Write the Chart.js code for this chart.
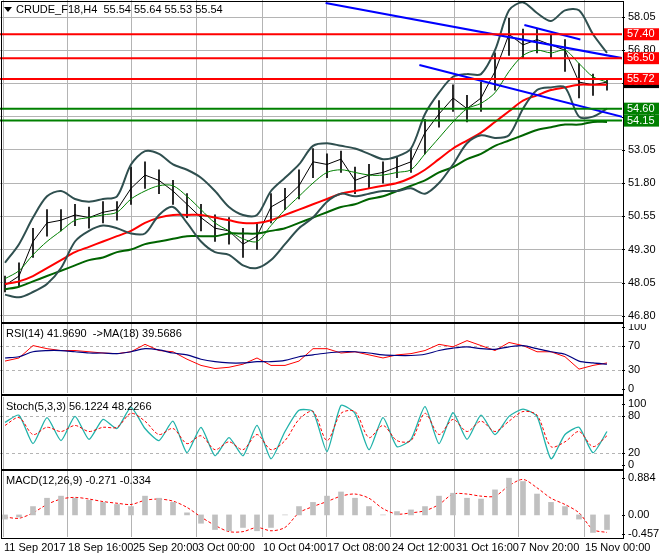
<!DOCTYPE html><html><head><meta charset="utf-8">
<script src="https://cdn.jsdelivr.net/npm/chart.js@4"></script>
<style>body{margin:0;background:#fff;width:660px;height:560px;position:relative;overflow:hidden;font-family:"Liberation Sans",sans-serif}
canvas{position:absolute;left:0}
.xl{position:absolute;top:541px;font:11px "Liberation Sans";color:#000;white-space:nowrap}
.frame{position:absolute;border:1px solid #000;left:1px;width:621px}
</style></head><body>
<canvas id="c1" width="660" height="322" style="top:0"></canvas>
<canvas id="c2" width="660" height="69" style="top:324px"></canvas>
<canvas id="c3" width="660" height="72" style="top:397px"></canvas>
<canvas id="c4" width="660" height="66" style="top:471px"></canvas>
<div class="frame" style="top:1px;height:320px"></div>
<div class="frame" style="top:323px;height:70px"></div>
<div class="frame" style="top:395px;height:73px"></div>
<div class="frame" style="top:470px;height:67px"></div>
<script>
const closes=[47.95,48.3,49.6,50.3,50.4,50.6,50.5,50.7,50.8,51.6,52.1,51.9,51.5,51.0,50.5,50.1,50.0,49.5,49.8,50.9,51.2,51.7,52.6,52.5,52.7,51.9,52.1,52.2,52.4,52.6,53.7,54.4,55.0,54.6,55.0,56.0,57.4,57.0,57.2,57.0,56.8,55.6,55.5,55.6];
const highs=[48.3,48.8,50.1,50.8,50.8,51.0,50.9,51.1,51.1,52.4,52.6,52.3,51.9,51.4,51.0,50.6,50.5,50.1,50.3,51.4,51.6,52.3,53.1,52.9,53.0,52.4,52.5,52.6,52.8,53.1,54.2,54.9,55.5,55.1,55.6,56.7,58.0,57.6,57.6,57.4,57.2,56.3,55.9,55.7];
const lows=[47.7,47.9,49.0,49.8,50.0,50.2,50.1,50.3,50.4,51.0,51.6,51.4,51.0,50.5,50.0,49.6,49.5,49.0,49.3,50.3,50.8,51.2,52.0,52.0,52.2,51.4,51.6,51.8,52.0,52.2,52.9,53.9,54.5,54.1,54.5,55.3,56.6,56.5,56.7,56.5,56.0,55.0,55.1,55.3];
const bbUpper=[48.8,49.5,50.5,51.3,51.5,51.2,51.1,51.2,51.3,52.5,53.0,52.9,52.5,52.3,52.0,51.5,50.9,50.6,50.6,51.5,52.0,52.5,53.2,53.3,53.2,53.1,52.9,52.7,52.8,53.1,54.4,55.2,55.8,55.9,55.9,56.8,58.3,58.6,58.2,57.9,58.3,58.3,57.4,56.7];
const bbLower=[47.6,47.5,47.7,48.0,48.6,49.6,50.0,50.2,50.1,49.9,49.9,50.6,50.9,50.3,49.6,49.2,49.1,48.7,48.6,48.9,49.5,50.1,50.5,51.1,51.4,51.3,51.4,51.5,51.5,51.6,51.4,51.8,52.5,53.3,53.6,53.5,53.6,54.6,55.3,55.4,55.4,54.3,54.3,54.6];
const bbMid=[48.2,48.5,49.1,49.6,50.0,50.4,50.5,50.6,50.7,51.2,51.5,51.7,51.7,51.3,50.8,50.3,50.0,49.7,49.6,50.2,50.8,51.3,51.8,52.2,52.3,52.2,52.1,52.1,52.2,52.3,52.9,53.5,54.1,54.6,54.8,55.2,56.0,56.6,56.8,56.7,56.8,56.3,55.8,55.6];
const maRed=[48.0,48.1,48.3,48.6,48.9,49.2,49.4,49.6,49.8,50.0,50.3,50.5,50.6,50.6,50.6,50.5,50.4,50.3,50.3,50.4,50.6,50.8,51.0,51.2,51.4,51.5,51.6,51.7,51.8,52.0,52.3,52.7,53.1,53.4,53.7,54.1,54.5,54.9,55.1,55.3,55.4,55.5,55.5,55.5];
const maGreen=[47.8,47.9,48.1,48.3,48.5,48.7,48.9,49.0,49.2,49.3,49.5,49.6,49.7,49.8,49.8,49.8,49.9,49.9,49.9,50.0,50.1,50.3,50.5,50.7,50.9,51.0,51.2,51.3,51.5,51.7,51.9,52.2,52.4,52.7,52.9,53.2,53.4,53.6,53.8,53.9,54.0,54.0,54.1,54.1];
const hLines=[{v:57.40,c:'#ff0000'},{v:56.50,c:'#ff0000'},{v:55.72,c:'#ff0000'},{v:54.60,c:'#008000'},{v:54.15,c:'#008000'}];
const trend1=[{x:22.9,y:58.58},{x:44.1,y:56.5}];
const trend2=[{x:29.6,y:56.24},{x:44.1,y:54.29}];
const trend3=[{x:37.1,y:57.75},{x:41.1,y:57.2}];
const priceTicks=[58.05,56.80,55.55,54.30,53.05,51.80,50.55,49.30,48.05,46.80];
const rsi=[45,50,70,65,62,62,60,58,57,60,72,62,60,48,38,33,35,40,50,38,38,45,65,65,58,60,55,50,55,57,62,72,68,78,70,62,75,70,60,60,52,32,38,42];
const rsiMA=[50,52,60,62,62,60,58,58,57,60,65,63,58,55,48,44,42,42,44,44,46,52,55,58,60,60,58,55,54,54,56,62,66,68,65,64,68,70,65,60,56,45,42,40];
const stochK=[70,82,35,78,40,80,42,75,60,95,60,40,72,20,62,15,45,15,65,10,55,90,88,22,98,85,25,78,30,42,96,35,86,42,82,50,80,92,80,10,50,62,20,55];
const stochD=[65,78,50,62,55,65,55,62,62,85,72,50,60,35,48,25,38,25,50,25,40,75,88,40,85,88,45,65,40,40,85,50,75,55,72,55,72,88,82,30,38,55,30,48];
const macdHist=[-0.1,-0.05,0.2,0.4,0.45,0.4,0.35,0.3,0.25,0.2,0.45,0.4,0.3,0.05,-0.2,-0.35,-0.38,-0.3,-0.38,-0.3,0.0,0.2,0.3,0.45,0.55,0.4,0.2,0.0,0.08,0.12,0.2,0.45,0.52,0.4,0.38,0.6,0.88,0.8,0.5,0.3,0.2,-0.1,-0.42,-0.35];
const macdSig=[-0.05,-0.08,0.05,0.25,0.38,0.42,0.38,0.32,0.28,0.25,0.35,0.38,0.33,0.18,-0.05,-0.25,-0.4,-0.4,-0.3,-0.38,-0.3,0.05,0.2,0.32,0.45,0.5,0.4,0.15,0.02,0.05,0.1,0.25,0.5,0.5,0.45,0.45,0.7,0.85,0.65,0.4,0.25,0.05,-0.35,-0.42];
const xLabels=['11 Sep 2017','18 Sep 16:00','25 Sep 20:00','3 Oct 00:00','10 Oct 04:00','17 Oct 08:00','24 Oct 12:00','31 Oct 16:00','7 Nov 20:00','15 Nov 00:00'];
const xLabelIdx=[-0.14,4.43,9.07,13.71,18.36,22.93,27.57,32.14,36.71,41.36];

const idx=closes.map((_,i)=>i);
const pts=a=>a.map((v,i)=>({x:i,y:v}));
const XMIN=-5/14, XMAX=617/14;
const F='"Liberation Sans",sans-serif';
const grid={color:'#b4b4b4',borderDash:[3,3],drawTicks:false};
function xScale(){return {type:'linear',offset:false,min:XMIN,max:XMAX,display:true,ticks:{display:false},border:{display:false},grid:Object.assign({offset:false},grid),afterBuildTicks:s=>{s.ticks=xLabelIdx.map(v=>({value:v}));},afterFit:s=>{s.height=0;}};}
function yScale(min,max,ticks,showGrid){return {position:'right',min:min,max:max,border:{display:false},grid:showGrid?grid:{display:false},
 ticks:{display:false},
 afterBuildTicks:s=>{s.ticks=ticks.map(v=>({value:v}));},afterFit:s=>{s.width=38;}};}
const labelPlugin=(ticks,fmt)=>({id:'yl',afterDraw(c){const x=c.ctx,y=c.scales.y;x.save();x.font='11px '+F;x.fillStyle='#000';x.textBaseline='middle';
 ticks.forEach(v=>{const p=y.getPixelForValue(v);x.fillRect(622,Math.round(p),3,1);x.fillText(fmt(v),628,p);});x.restore();}});
const titlePlugin=(txt)=>({id:'t',afterDraw(c){const x=c.ctx;x.save();x.font='11px '+F;x.fillStyle='#000';x.textBaseline='top';x.fillText(txt.t,txt.x,4);if(txt.tri){x.beginPath();x.moveTo(4,7);x.lineTo(12,7);x.lineTo(8,12);x.fill();}x.restore();}});
const base={animation:false,responsive:false,events:[],plugins:{legend:{display:false},tooltip:{enabled:false}},layout:{padding:0}};

const tagPlugin={id:'tags',afterDraw(c){const x=c.ctx,y=c.scales.y;x.save();x.font='11px '+F;x.textBaseline='middle';
 const tag=(v,bg,fg,txt)=>{const p=y.getPixelForValue(v);x.fillStyle=bg;x.fillRect(623,p-6,36,12);x.fillStyle=fg;x.fillText(txt,627,p);};
 tag(closes[closes.length-1],'#000','#fff','55.54');
 hLines.forEach(h=>tag(h.v,h.c,'#fff',h.v.toFixed(2)));x.restore();}};

const lineDS=(data,color,w,extra)=>Object.assign({type:'line',data:pts(data),borderColor:color,borderWidth:w,pointRadius:0,tension:0.3,fill:false},extra||{});
new Chart('c1',{type:'line',data:{datasets:[
 ...hLines.map(h=>({type:'line',data:[{x:XMIN,y:h.v},{x:XMAX,y:h.v}],borderColor:h.c,borderWidth:2,pointRadius:0})),
 {type:'line',data:trend1,borderColor:'#0000ff',borderWidth:2,pointRadius:0},
 {type:'line',data:trend2,borderColor:'#0000ff',borderWidth:2,pointRadius:0},
 {type:'line',data:trend3,borderColor:'#0000ff',borderWidth:2,pointRadius:0},
 lineDS(bbUpper,'#2f4f4f',2),lineDS(bbLower,'#2f4f4f',2),lineDS(bbMid,'#008000',1),
 lineDS(maRed,'#ff0000',2),lineDS(maGreen,'#006400',2),
 {type:'bar',data:idx.map(i=>({x:i,y:[lows[i],highs[i]]})),backgroundColor:'#000',barThickness:1,grouped:false},
 {type:'line',data:pts(closes),borderColor:'#000',borderWidth:1,pointRadius:0,tension:0}
]},options:Object.assign({},base,{scales:{x:xScale(),y:yScale(46.57,58.69,priceTicks,true)}}),
plugins:[labelPlugin(priceTicks,v=>v.toFixed(2)),titlePlugin({t:'CRUDE_F18,H4  55.54 55.64 55.53 55.54',x:16,tri:true}),tagPlugin]});

const hg=(vals)=>({id:'hg',beforeDatasetsDraw(c){const x=c.ctx,y=c.scales.y;x.save();x.strokeStyle='#b4b4b4';x.setLineDash([3,3]);vals.forEach(v=>{const p=Math.round(y.getPixelForValue(v))+.5;x.beginPath();x.moveTo(0,p);x.lineTo(622,p);x.stroke();});x.restore();}});
new Chart('c2',{type:'line',data:{datasets:[lineDS(rsiMA,'#000080',1.2),lineDS(rsi,'#ff0000',1,{tension:0})]},
 options:Object.assign({},base,{scales:{x:xScale(),y:yScale(-6.5,104.8,[100,70,30,0],false)}}),
 plugins:[hg([70,30]),labelPlugin([100,70,30,0],v=>v),titlePlugin({t:'RSI(14) 41.9690  ->MA(18) 39.5686',x:6})]});

new Chart('c3',{type:'line',data:{datasets:[lineDS(stochD,'#ff0000',1,{borderDash:[3,2]}),lineDS(stochK,'#20b2aa',1.3,{tension:0.2})]},
 options:Object.assign({},base,{scales:{x:xScale(),y:yScale(-6.9,112,[100,80,20,0],false)}}),
 plugins:[hg([80,20]),labelPlugin([100,80,20,0],v=>v),titlePlugin({t:'Stoch(5,3,3) 56.1224 48.2266',x:6})]});

new Chart('c4',{type:'line',data:{datasets:[
 {type:'bar',data:pts(macdHist),backgroundColor:'#c0c0c0',barThickness:5,grouped:false},
 lineDS(macdSig,'#ff0000',1,{borderDash:[3,2]})]},
 options:Object.assign({},base,{scales:{x:xScale(),y:yScale(-0.529,1.052,[0.884,0,-0.457],false)}}),
 plugins:[labelPlugin([0.884,0,-0.457],v=>v===0?'0.00':v.toFixed(3)),titlePlugin({t:'MACD(12,26,9) -0.271 -0.334',x:6})]});

xLabels.forEach((t,i)=>{const d=document.createElement('div');d.className='xl';d.textContent=t;d.style.left=(5+14*xLabelIdx[i]+1)+'px';document.body.appendChild(d);});
</script></body></html>
